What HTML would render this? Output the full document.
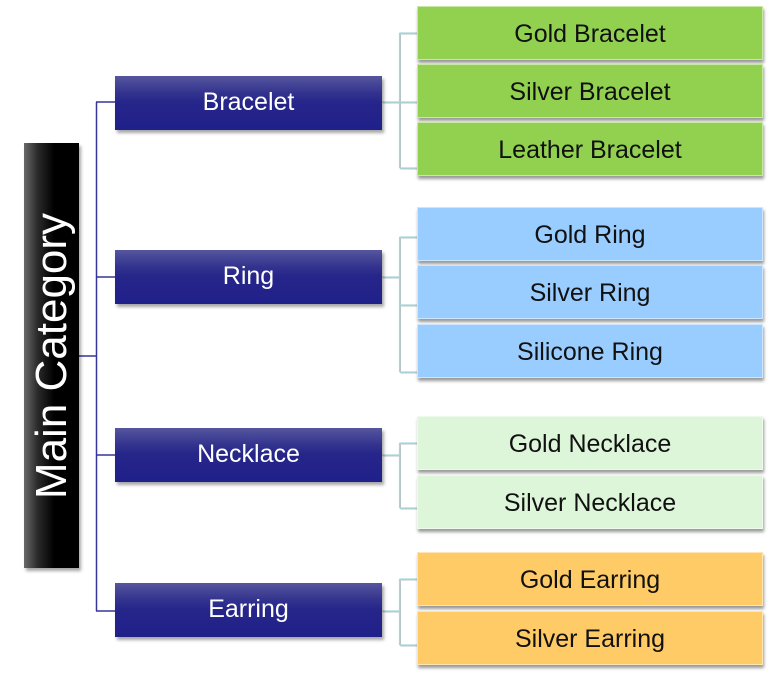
<!DOCTYPE html>
<html><head><meta charset="utf-8"><style>
html,body{margin:0;padding:0;background:#fff;}
body{width:773px;height:679px;position:relative;overflow:hidden;font-family:"Liberation Sans",Arial,sans-serif;}
.main{position:absolute;left:24px;top:143px;width:55px;height:425px;background:linear-gradient(to right,#6a6a6a 0%,#2a2a2a 25%,#000 55%,#000 100%);box-shadow:2px 3px 3px rgba(0,0,0,0.35);}
.main span{position:absolute;left:50%;top:50%;transform:translate(-50%,-50%) rotate(-90deg);color:#fff;font-size:44px;white-space:nowrap;line-height:1;}
.l1{position:absolute;left:115px;width:267px;height:54px;background:linear-gradient(to bottom,#56569f 0%,#34348f 30%,#25258a 50%,#20208a 100%);color:#fff;font-size:25px;text-align:center;line-height:52px;box-shadow:2px 3px 3px rgba(0,0,0,0.35);}
.c{position:absolute;left:417px;width:346px;height:54px;font-size:25px;text-align:center;line-height:54px;color:#111;box-shadow:1px 3px 3px rgba(0,0,0,0.4);box-sizing:border-box;border:1px solid rgba(255,255,255,0.5);}
.g{background:#92d050;}
.b{background:#99ccff;}
.lg{background:#ddf6d9;}
.o{background:#ffcb66;}
svg{position:absolute;left:0;top:0;}
</style></head><body>
<svg width="773" height="679">
 <g stroke="#35359a" stroke-width="1.5" fill="none">
  <line x1="96.5" y1="102" x2="96.5" y2="611"/>
  <line x1="79" y1="356" x2="97" y2="356"/>
  <line x1="96" y1="102" x2="115" y2="102"/>
  <line x1="96" y1="277" x2="115" y2="277"/>
  <line x1="96" y1="455" x2="115" y2="455"/>
  <line x1="96" y1="611" x2="115" y2="611"/>
 </g>
 <g stroke="#b8c4c6" stroke-width="1" fill="none" transform="translate(1,1)">
  <path d="M382 102H399.5M399.5 33V168M399.5 33H417M399.5 102H417M399.5 168H417"/>
  <path d="M382 277H399.5M399.5 237V372M399.5 237H417M399.5 305H417M399.5 372H417"/>
  <path d="M382 455H399.5M399.5 443V508M399.5 443H417M399.5 508H417"/>
  <path d="M382 611H399.5M399.5 579V645M399.5 579H417M399.5 645H417"/>
 </g>
 <g stroke="#a6d6dc" stroke-width="1.2" fill="none">
  <path d="M382 102H399.5M399.5 33V168M399.5 33H417M399.5 102H417M399.5 168H417"/>
  <path d="M382 277H399.5M399.5 237V372M399.5 237H417M399.5 305H417M399.5 372H417"/>
  <path d="M382 455H399.5M399.5 443V508M399.5 443H417M399.5 508H417"/>
  <path d="M382 611H399.5M399.5 579V645M399.5 579H417M399.5 645H417"/>
 </g>
</svg>
<div class="main"><span>Main Category</span></div>
<div class="l1" style="top:76px">Bracelet</div>
<div class="l1" style="top:250px">Ring</div>
<div class="l1" style="top:428px">Necklace</div>
<div class="l1" style="top:583px">Earring</div>

<div class="c g" style="top:6px">Gold Bracelet</div>
<div class="c g" style="top:64px">Silver Bracelet</div>
<div class="c g" style="top:122px">Leather Bracelet</div>

<div class="c b" style="top:207px">Gold Ring</div>
<div class="c b" style="top:265px">Silver Ring</div>
<div class="c b" style="top:324px">Silicone Ring</div>

<div class="c lg" style="top:416px">Gold Necklace</div>
<div class="c lg" style="top:475px">Silver Necklace</div>

<div class="c o" style="top:552px">Gold Earring</div>
<div class="c o" style="top:611px">Silver Earring</div>
</body></html>
